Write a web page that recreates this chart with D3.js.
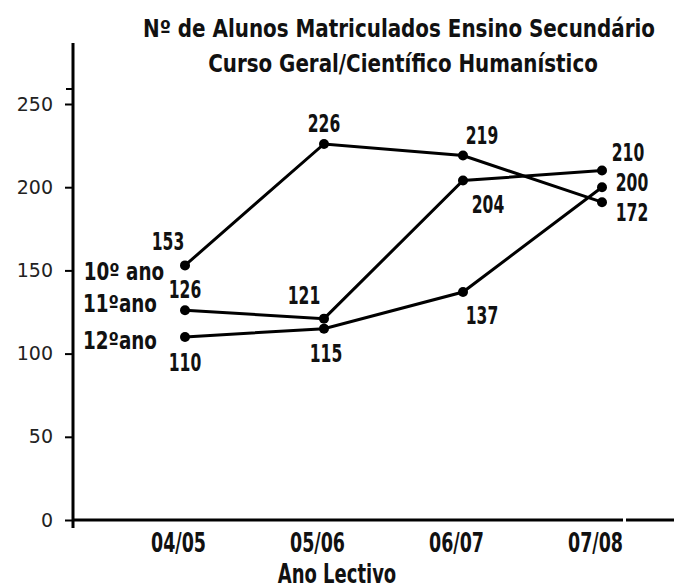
<!DOCTYPE html>
<html><head><meta charset="utf-8">
<script src="https://cdn.jsdelivr.net/npm/d3@7"></script>
<style>
html,body{margin:0;padding:0;background:#fff;}
svg{display:block;}
.cond{font-family:"Liberation Sans Narrow","DejaVu Sans Condensed","Arial Narrow",sans-serif;font-weight:bold;}
</style></head>
<body>
<svg id="c" width="674" height="588"></svg>
<script>
// ---- data ----
const titleLines = ["Nº de Alunos Matriculados Ensino Secundário", "Curso Geral/Científico Humanístico"];
const categories = ["04/05", "05/06", "06/07", "07/08"];
const seriesNames = ["10º ano", "11ºano", "12ºano"];
const values10 = [153, 226, 219, 191];
const values11 = [126, 121, 204, 210];
const values12 = [110, 115, 137, 200];
const labels10 = ["153", "226", "219", "172"];
const labels11 = ["126", "121", "204", "210"];
const labels12 = ["110", "115", "137", "200"];
const yTicks = [0, 50, 100, 150, 200, 250];
const xTitle = "Ano Lectivo";

// ---- layout (styles / positions) ----
const labelOffsets = [
  [[-17,-24],[0,-21],[19,-20],[30,10]],
  [[0,-21],[-20,-23],[25,24],[26,-18]],
  [[0,25],[2,25],[19,23],[30,-5]]
];
const nameOffsets = [[-61, 6], [-65, -7], [-65, 3]];
const titlePos = [[399, 37, 512], [403, 72, 390]];

function squeeze(sel, f) {
  sel.each(function(){
    const w = this.getComputedTextLength();
    d3.select(this).attr("textLength", w*f).attr("lengthAdjust","spacingAndGlyphs");
  });
}

const svg = d3.select("#c");
const x = d3.scalePoint().domain(categories).range([185, 602]);
const y = d3.scaleLinear().domain([0, 250]).range([520, 104]);

// title (horizontally scaled to the reference width)
titleLines.forEach((t, i) => {
  const g = svg.append("g");
  const tx = g.append("text").attr("class","cond").attr("x",0).attr("y",0)
    .attr("text-anchor","middle").attr("font-size",24).attr("fill","#111").text(t);
  const w = tx.node().getComputedTextLength();
  const sx = titlePos[i][2] / w;
  g.attr("transform", `translate(${titlePos[i][0]},${titlePos[i][1]}) scale(${sx},1)`);
});

// y axis
const yAxis = d3.axisLeft(y).tickValues(yTicks).tickSize(8).tickPadding(12);
const gy = svg.append("g").attr("transform","translate(73,0)").call(yAxis);
gy.select(".domain").remove();
gy.selectAll(".tick line").attr("stroke","#000").attr("stroke-width",2);
gy.selectAll(".tick text").attr("font-family","'DejaVu Sans',sans-serif").attr("font-size",19).attr("fill","#222");
svg.append("line").attr("x1",73).attr("x2",73).attr("y1",43).attr("y2",528)
  .attr("stroke","#000").attr("stroke-width",3);
svg.append("line").attr("x1",66).attr("x2",73).attr("y1",89).attr("y2",89)
  .attr("stroke","#000").attr("stroke-width",2);

// x axis
svg.append("line").attr("x1",73).attr("x2",623).attr("y1",y(0)).attr("y2",y(0))
  .attr("stroke","#000").attr("stroke-width",3);
svg.append("line").attr("x1",626).attr("x2",674).attr("y1",y(0)).attr("y2",y(0))
  .attr("stroke","#000").attr("stroke-width",3);
const xAxis = d3.axisBottom(x).tickSize(0).tickPadding(13);
const gx = svg.append("g").attr("transform",`translate(-7,${y(0)})`).call(xAxis);
gx.select(".domain").remove();
gx.selectAll(".tick text").attr("class","cond").attr("font-size",27).attr("fill","#111")
  .call(squeeze, 0.72);

svg.append("text").attr("class","cond").attr("x",337).attr("y",583)
  .attr("text-anchor","middle").attr("font-size",27).attr("fill","#111").text(xTitle)
  .call(squeeze, 0.74);

// series
const series = [values10, values11, values12];
const labels = [labels10, labels11, labels12];
const line = d3.line().x((d,i)=>x(categories[i])).y(d=>y(d));
series.forEach((vals, s) => {
  svg.append("path").attr("d", line(vals)).attr("fill","none")
    .attr("stroke","#000").attr("stroke-width",3);
  svg.selectAll(null).data(vals).join("circle")
    .attr("cx",(d,i)=>x(categories[i])).attr("cy",d=>y(d)).attr("r",5).attr("fill","#000");
  svg.selectAll(null).data(vals).join("text")
    .attr("class","cond")
    .attr("x",(d,i)=>x(categories[i]) + labelOffsets[s][i][0])
    .attr("y",(d,i)=>y(d) + labelOffsets[s][i][1])
    .attr("dy","0.36em")
    .attr("text-anchor","middle").attr("font-size",24).attr("fill","#111")
    .text((d,i)=>labels[s][i])
    .call(squeeze, 0.72);
  svg.append("text").attr("class","cond")
    .attr("x", x(categories[0]) + nameOffsets[s][0])
    .attr("y", y(vals[0]) + nameOffsets[s][1])
    .attr("dy","0.36em")
    .attr("text-anchor","middle").attr("font-size",24).attr("fill","#111")
    .text(seriesNames[s])
    .call(squeeze, 0.85);
});
</script>
</body></html>
